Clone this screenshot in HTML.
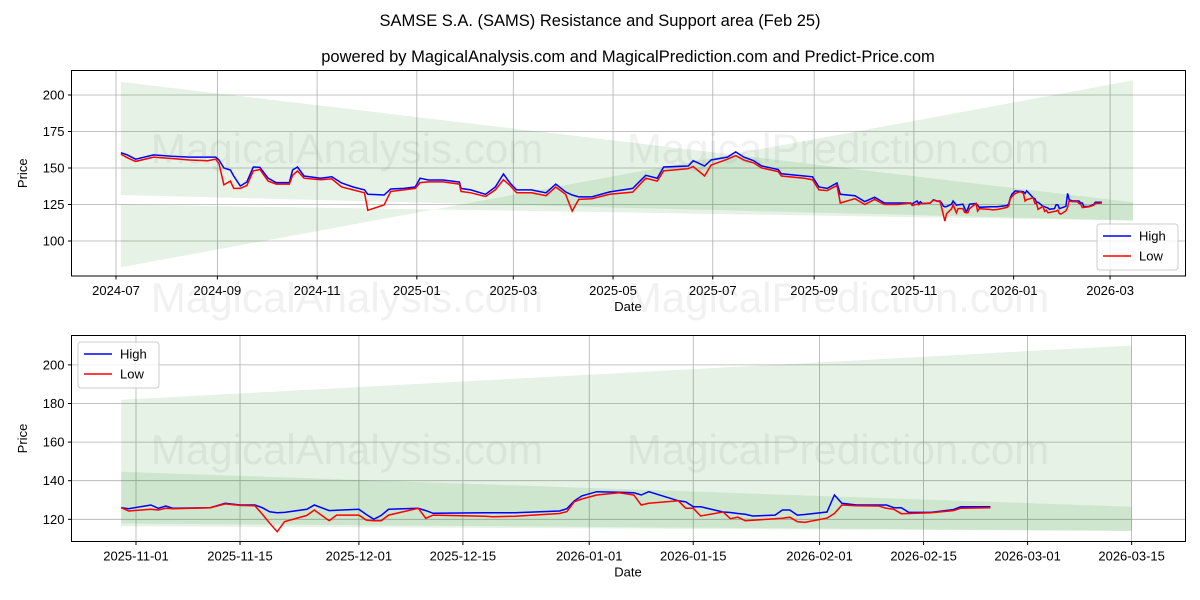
<!DOCTYPE html>
<html><head><meta charset="utf-8"><style>
html,body{margin:0;padding:0;background:#fff;}
svg{display:block;font-family:"Liberation Sans","DejaVu Sans",sans-serif;}
</style></head><body>
<svg id="chart" width="1200" height="600" viewBox="0 0 1200 600" xmlns="http://www.w3.org/2000/svg">
<defs>
<clipPath id="clipTop"><rect x="71.5" y="70.5" width="1114" height="205.5"/></clipPath>
<clipPath id="clipBot"><rect x="71.5" y="335.5" width="1114" height="206"/></clipPath>
</defs>
<rect x="0" y="0" width="1200" height="600" fill="#fff"/>
<text x="600" y="26" text-anchor="middle" font-size="16.5" fill="#000">SAMSE S.A. (SAMS) Resistance and Support area (Feb 25)</text>
<text x="628" y="62" text-anchor="middle" font-size="16.5" fill="#000">powered by MagicalAnalysis.com and MagicalPrediction.com and Predict-Price.com</text>
<g id="topPanel"></g>
<g id="botPanel"></g>
</svg>
<script>
// ---- data ----
const dates = ["2024-07-04","2024-07-08","2024-07-13","2024-07-24","2024-08-04","2024-08-15","2024-08-26","2024-08-31","2024-09-02","2024-09-05","2024-09-09","2024-09-11","2024-09-15","2024-09-19","2024-09-23","2024-09-27","2024-10-02","2024-10-07","2024-10-15","2024-10-17","2024-10-20","2024-10-24","2024-11-03","2024-11-10","2024-11-16","2024-11-23","2024-11-30","2024-12-02","2024-12-12","2024-12-16","2024-12-24","2024-12-31","2025-01-03","2025-01-08","2025-01-17","2025-01-27","2025-01-28","2025-02-03","2025-02-12","2025-02-18","2025-02-23","2025-02-27","2025-03-03","2025-03-12","2025-03-21","2025-03-27","2025-04-02","2025-04-06","2025-04-10","2025-04-18","2025-04-29","2025-05-13","2025-05-21","2025-05-28","2025-06-01","2025-06-16","2025-06-19","2025-06-26","2025-06-30","2025-07-10","2025-07-15","2025-07-20","2025-07-26","2025-07-31","2025-08-10","2025-08-12","2025-08-26","2025-08-31","2025-09-04","2025-09-09","2025-09-15","2025-09-17","2025-09-26","2025-10-02","2025-10-08","2025-10-14","2025-10-22",
"2025-10-30","2025-10-31","2025-11-03","2025-11-04","2025-11-05","2025-11-06","2025-11-11","2025-11-13","2025-11-15","2025-11-17","2025-11-18","2025-11-19","2025-11-20","2025-11-21","2025-11-24","2025-11-25","2025-11-27","2025-11-28","2025-12-01","2025-12-02","2025-12-03","2025-12-04","2025-12-05","2025-12-09","2025-12-10","2025-12-11","2025-12-18","2025-12-19","2025-12-22","2025-12-28","2025-12-29","2025-12-30","2025-12-31","2026-01-02","2026-01-05","2026-01-07","2026-01-08","2026-01-09","2026-01-13","2026-01-14","2026-01-15","2026-01-16","2026-01-19","2026-01-20","2026-01-21","2026-01-22","2026-01-23","2026-01-26","2026-01-27","2026-01-28","2026-01-29","2026-01-30","2026-02-02","2026-02-03","2026-02-04","2026-02-06","2026-02-09","2026-02-10","2026-02-11","2026-02-12","2026-02-13","2026-02-16","2026-02-19","2026-02-20","2026-02-24"];
const highs = [160.5,159,156,159,158,157.5,157.5,157.5,155.5,150,148.6,144.5,137.7,140.4,150.7,150.5,143,140,140,148.6,150.7,144.5,143,144,139.7,137,135,132,131.5,135.6,136,137,143,141.8,141.8,140.4,136,135,132,137,145.9,139.7,135,135,133,139,133.6,131.5,130.2,130.2,133.6,136,145,143,150.7,151.4,155,151.4,155.5,157.5,161,157.5,155,151.4,149,146,144.5,144,137,136,139.7,132,131,127,130,126,126,
126,125.5,127.4,125.7,126.9,125.7,126,128.3,127.4,127.4,126,123.9,123.4,123.6,125.2,127.4,124.5,124.7,125.2,122.5,120,122,125.2,125.7,124.5,123.1,123.4,123.4,123.4,124.3,125.5,129.6,132.1,134.3,134,133.8,132.6,134.3,129.6,129,126.5,126.5,123.8,123.5,123,122.6,121.7,122.2,124.8,124.8,122.2,122.5,123.8,132.6,128.3,127.4,127.4,127.4,126,126,123.6,123.6,125,126.5,126.5];
const lows = [159.5,157,154.5,157.5,156.5,155.5,155,156,153,138.4,141,136,136,138,148,149,141,139,139,145,148,143,142,142.5,137,135,133,121,124.7,134,135,136,140,140.5,140.5,139,134,133,130.5,135,142,138,133,133,131,137,132,120.5,128.5,129,132,133.5,143,141,148,149.5,151,144.5,152,156,158.5,155.5,153.5,150,147.5,144.5,143,142,135,134.5,138,126,129,125,128.5,125,125,
126,124.3,125.2,124.8,125.7,125.5,126,128,127.2,127,122.7,118,113.6,118.8,122,124.8,119.3,122.2,122.2,119.6,119.3,119.3,122.2,125.7,120.5,122.2,121.6,121.3,121.6,123,124,129.1,130.5,132.6,133.8,132.6,127.4,128.3,129.6,125.7,125.7,121.7,123.8,120.3,121.1,119.3,119.5,120.3,120.5,121.1,118.8,118.4,120.6,123,127.4,127,126.9,125.7,125.2,122.9,123,123.4,124.5,125.7,126];
const zoomStart = "2025-10-30";
const bandDates = ["2024-07-04","2026-03-15"];
const bandATop = [209,126.5];
const bandABot = [131.5,114];
const bandBLine1 = [82,210];
const bandBLine2 = [125,114];
const topYTicks = [100,125,150,175,200];
const topXTicks = ["2024-07","2024-09","2024-11","2025-01","2025-03","2025-05","2025-07","2025-09","2025-11","2026-01","2026-03"];
const botYTicks = [120,140,160,180,200];
const botXTicks = ["2025-11-01","2025-11-15","2025-12-01","2025-12-15","2026-01-01","2026-01-15","2026-02-01","2026-02-15","2026-03-01","2026-03-15"];

// ---- helpers ----
const NS="http://www.w3.org/2000/svg";
function mk(tag,attrs,parent){const e=document.createElementNS(NS,tag);for(const k in attrs)e.setAttribute(k,attrs[k]);parent.appendChild(e);return e;}
function dnum(s){const p=s.split("-").map(Number);return Date.UTC(p[0],p[1]-1,p[2]||1)/86400000;}
const T0=dnum("2024-07-01"), B0=dnum("2025-11-01");
const topX=d=>116+(dnum(d)-T0)*1.635;
const topY=v=>95+(200-v)*1.46;
const botX=d=>136+(dnum(d)-B0)*7.43;
const botY=v=>519.3-(v-120)*1.93;

function drawPanel(g,X,Y,clip,box,yT,xT,startDate,legendPos,name,wmY){
  const grid=mk("g",{},g);
  
  
  xT.forEach(t=>{const x=X(t);mk("line",{x1:x,x2:x,y1:box.y,y2:box.y+box.h,stroke:"#b0b0b0","stroke-width":0.8},grid);});
  yT.forEach(t=>{const y=Y(t);mk("line",{x1:box.x,x2:box.x+box.w,y1:y,y2:y,stroke:"#b0b0b0","stroke-width":0.8},grid);});
  const cg=mk("g",{"clip-path":"url(#"+clip+")"},g);
  const d0=dnum(bandDates[0]),d1=dnum(bandDates[1]);
  const s=startDate?dnum(startDate):d0;
  const lerp=(arr,d)=>arr[0]+(arr[1]-arr[0])*(d-d0)/(d1-d0);
  const ds=new Date(s*86400000).toISOString().slice(0,10);
  const de=bandDates[1];
  function band(a,b,nm){
    const p=[[X(ds),Y(lerp(a,s))],[X(de),Y(a[1])],[X(de),Y(b[1])],[X(ds),Y(lerp(b,s))]];
    const poly=mk("polygon",{points:p.map(q=>q.join(",")).join(" "),fill:"#008000","fill-opacity":0.1},cg);
    
    
  }
  band(bandATop,bandABot,name+'-resistance-band');
  band(bandBLine1,bandBLine2,name+'-support-band');
  const idx=dates.map((d,i)=>i).filter(i=>!startDate||dnum(dates[i])>=dnum(startDate));
  const hp=mk("polyline",{points:idx.map(i=>X(dates[i]).toFixed(1)+","+Y(highs[i]).toFixed(1)).join(" "),fill:"none",stroke:"#0000ff","stroke-width":1.5},cg);
  
  
  const lp=mk("polyline",{points:idx.map(i=>X(dates[i]).toFixed(1)+","+Y(lows[i]).toFixed(1)).join(" "),fill:"none",stroke:"#ff0000","stroke-width":1.5},cg);
  
  
  mk("rect",{x:box.x,y:box.y,width:box.w,height:box.h,fill:"none",stroke:"#000","stroke-width":1},g);
  yT.forEach(t=>{const y=Y(t);mk("line",{x1:box.x-3.5,x2:box.x,y1:y,y2:y,stroke:"#000"},g);
    const tx=mk("text",{x:box.x-7,y:y+4.5,"text-anchor":"end","font-size":13},g);tx.textContent=t;
    
    });
  xT.forEach(t=>{const x=X(t);mk("line",{x1:x,x2:x,y1:box.y+box.h,y2:box.y+box.h+3.5,stroke:"#000"},g);
    const tx=mk("text",{x:x,y:box.y+box.h+19,"text-anchor":"middle","font-size":13},g);tx.textContent=t;
    
    });
  const xl=mk("text",{x:box.x+box.w/2-0.5,y:box.y+box.h+35,"text-anchor":"middle","font-size":13},g);xl.textContent="Date";
  
  
  const yl=mk("text",{x:0,y:0,"text-anchor":"middle","font-size":13,transform:"translate(27,"+(box.y+box.h/2)+") rotate(-90)"},g);yl.textContent="Price";
  
  
  const lg=mk("g",{},g);
  
  
  const lx=legendPos[0],ly=legendPos[1];
  mk("rect",{x:lx,y:ly,width:81,height:46,rx:3,fill:"#fff","fill-opacity":0.8,stroke:"#cccccc"},lg);
  [["High","#0000ff"],["Low","#ff0000"]].forEach((e,k)=>{
    const yy=ly+12+k*20;
    mk("line",{x1:lx+6,x2:lx+34,y1:yy,y2:yy,stroke:e[1],"stroke-width":1.5},lg);
    const t=mk("text",{x:lx+42,y:yy+4.5,"font-size":13},lg);t.textContent=e[0];
    
    
  });
  [["MagicalAnalysis.com",347],["MagicalPrediction.com",838]].forEach(w=>{
    const t=mk("text",{x:w[1],y:wmY,"text-anchor":"middle","font-size":42,fill:"#808080","fill-opacity":0.11},g);t.textContent=w[0];
    
    
  });
}
const topG=document.getElementById("topPanel");


drawPanel(topG,topX,topY,"clipTop",{x:71.5,y:70.5,w:1114,h:205.5},topYTicks,topXTicks,null,[1097,224],"top",163);
const botG=document.getElementById("botPanel");


drawPanel(botG,botX,botY,"clipBot",{x:71.5,y:335.5,w:1114,h:206},botYTicks,botXTicks,zoomStart,[78,342],"bottom",464);
const svgRoot=document.getElementById("chart");
[["MagicalAnalysis.com",347],["MagicalPrediction.com",838]].forEach(w=>{
  const t=mk("text",{x:w[1],y:312,"text-anchor":"middle","font-size":42,fill:"#808080","fill-opacity":0.11},svgRoot);t.textContent=w[0];
  
  
});
</script>
</body></html>
